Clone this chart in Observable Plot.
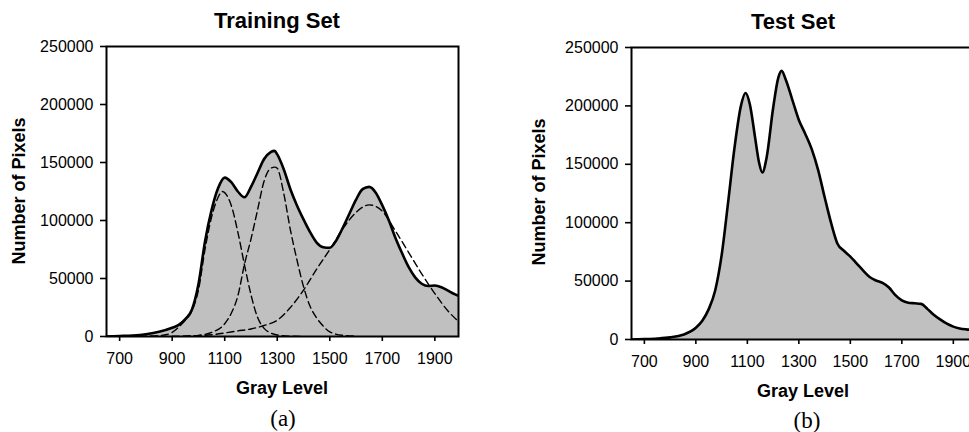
<!DOCTYPE html>
<html><head><meta charset="utf-8">
<script src="https://cdn.jsdelivr.net/npm/d3@7"></script>
<script src="https://cdn.jsdelivr.net/npm/@observablehq/plot@0.6"></script>
<style>
html,body{margin:0;padding:0;background:#fff;overflow:hidden}
#wrap{position:relative;width:969px;height:432px;overflow:hidden;font-family:"Liberation Sans",Arial,sans-serif;color:#000}
.abs{position:absolute;white-space:nowrap;line-height:1.15}
.title{font-weight:bold;font-size:22px;transform:translate(-50%,-50%)}
.xlab{font-weight:bold;font-size:18px;transform:translate(-50%,-50%)}
.ylab{font-weight:bold;font-size:18px;transform:translate(-50%,-50%) rotate(-90deg)}
.cap{font-family:"Liberation Serif","Times New Roman",serif;font-size:23px;transform:translate(-50%,-50%)}
.plot{position:absolute;top:0}
</style></head><body><div id="wrap"></div>
<script>
// ---- Data ----
const titles = ["Training Set", "Test Set"];
const captions = ["(a)", "(b)"];
const xLabel = "Gray Level";
const yLabel = "Number of Pixels";
const xTicks = [700, 900, 1100, 1300, 1500, 1700, 1900];
const yTicks = [0, 50000, 100000, 150000, 200000, 250000];

// Training set: total histogram
const trainX = [650,700,750,800,850,900,925,950,975,1000,1025,1050,1075,1100,1125,1150,1175,1200,1225,1250,1275,1290,1300,1325,1350,1375,1400,1425,1450,1475,1500,1525,1550,1575,1600,1625,1650,1675,1700,1725,1750,1775,1800,1825,1850,1875,1900,1925,1950,1975,1990];
const trainY = [0,400,900,2000,4000,7500,10000,15000,23000,45000,82000,109000,128000,137000,133000,125000,120000,129000,141000,153000,159000,160000,157000,144000,127000,113000,101000,90000,81000,77000,76500,83000,94000,106000,118000,127000,129000,124000,113000,100000,85000,72000,60000,51000,45500,43500,44000,42500,39500,36500,35000];

// Training set: fitted components (dashed)
const comp1X = [650,800,850,880,900,925,950,975,1000,1025,1050,1075,1090,1110,1125,1150,1175,1200,1225,1250,1275,1300,1350,1400];
const comp1Y = [0,300,800,1700,3500,8000,14000,22000,40000,75000,103000,120000,125000,121000,113000,90000,62000,36000,16500,7000,3000,1300,300,0];
const comp2X = [900,950,1000,1050,1100,1125,1150,1175,1200,1225,1250,1275,1290,1300,1325,1350,1375,1400,1425,1450,1475,1500,1550,1600];
const comp2Y = [0,300,1000,3500,11000,20000,35000,62000,84000,109000,134000,145000,146000,145000,123000,92000,66000,43000,26000,16000,9000,4000,1000,300];
const comp3X = [900,950,1000,1050,1100,1150,1200,1250,1300,1350,1400,1450,1500,1550,1600,1650,1700,1750,1800,1850,1900,1950,1990];
const comp3Y = [0,300,700,1500,3000,4800,6500,9500,14000,25000,40000,58000,75000,93000,107000,113500,108000,91000,72500,54000,37000,22000,13000];

// Test set: total histogram
const testX = [650,700,750,800,850,900,925,950,975,1000,1025,1050,1075,1093,1110,1130,1145,1158,1175,1200,1220,1233,1250,1275,1300,1325,1350,1375,1400,1425,1450,1475,1500,1525,1550,1575,1600,1625,1650,1675,1700,1725,1750,1775,1800,1825,1850,1875,1900,1925,1950,1975,1990];
const testY = [0,300,800,1800,4000,10000,16000,26000,42000,72000,117000,164000,200000,211000,201000,173000,152000,143000,156000,198000,224000,230000,222000,205000,188000,176000,163000,145000,122000,100000,82000,76000,71000,65000,59000,53500,50500,48500,44500,38000,33500,31500,31000,30500,26000,21000,17000,13500,11000,9500,8700,8200,8000];

// ---- Helpers ----
const pts = (xs, ys) => xs.map((x, i) => ({x, y: ys[i]}));
const FONT = '"Liberation Sans", Arial, sans-serif';

function makePlot({width, height, ml, mr, mt, mb, total, comps}) {
  const marks = [
    Plot.areaY(total, {x: "x", y: "y", fill: "#c0c0c0", curve: "monotone-x"}),
    ...comps.map(c => Plot.line(c, {x: "x", y: "y", stroke: "#000", strokeWidth: 1.4, strokeDasharray: "7,4", curve: "monotone-x"})),
    Plot.line(total, {x: "x", y: "y", stroke: "#000", strokeWidth: 2.6, curve: "monotone-x"}),
    Plot.frame({stroke: "#000", strokeWidth: 2}),
    Plot.axisX({ticks: xTicks, tickSize: 5, tickPadding: 11, fontSize: 16, strokeWidth: 1.6, label: null, tickFormat: d => String(d)}),
    Plot.axisY({ticks: yTicks, tickSize: 6, tickPadding: 7, fontSize: 16, strokeWidth: 1.6, label: null, tickFormat: d => String(d)})
  ];
  return Plot.plot({
    width, height,
    marginLeft: ml, marginRight: mr, marginTop: mt, marginBottom: mb,
    x: {domain: [650, 1990]},
    y: {domain: [0, 250000]},
    clip: true,
    style: {fontFamily: FONT, color: "#000", background: "transparent", overflow: "visible"},
    marks
  });
}

const wrap = document.getElementById("wrap");

const left = makePlot({width: 480, height: 400, ml: 106, mr: 22, mt: 46, mb: 64,
  total: pts(trainX, trainY),
  comps: [pts(comp1X, comp1Y), pts(comp2X, comp2Y), pts(comp3X, comp3Y)]});
left.classList.add("plot"); left.style.left = "0px";
wrap.appendChild(left);

const right = makePlot({width: 500, height: 400, ml: 142, mr: 13, mt: 47, mb: 61,
  total: pts(testX, testY), comps: []});
right.classList.add("plot"); right.style.left = "489px";
wrap.appendChild(right);

function label(text, cls, x, y) {
  const d = document.createElement("div");
  d.className = "abs " + cls;
  d.textContent = text;
  d.style.left = x + "px"; d.style.top = y + "px";
  wrap.appendChild(d);
}
label(titles[0], "title", 277, 21);
label(titles[1], "title", 793, 22);
label(yLabel, "ylab", 19, 191);
label(yLabel, "ylab", 539, 192);
label(xLabel, "xlab", 282, 388);
label(xLabel, "xlab", 803, 391);
label(captions[0], "cap", 283, 419);
label(captions[1], "cap", 807, 421);
</script></body></html>
